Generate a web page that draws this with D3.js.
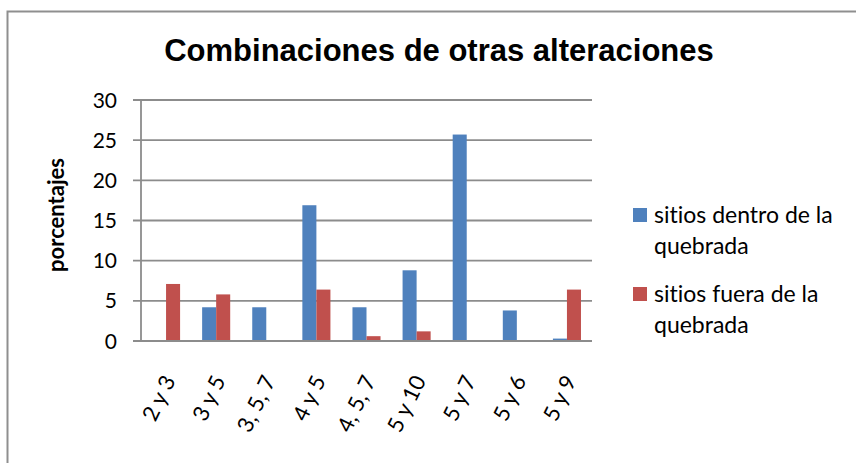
<!DOCTYPE html>
<html>
<head>
<meta charset="utf-8">
<script src="https://cdn.jsdelivr.net/npm/d3@7"></script>
<style>
  html, body { margin: 0; padding: 0; background: #fff; }
  svg { display: block; }
  text { font-variant-ligatures: none; }
  .tick-label { font-family: Lato, "Open Sans", sans-serif; font-size: 21px; fill: #000; }
  .cat-label { font-family: Lato, "Open Sans", sans-serif; font-size: 22px; fill: #000; }
  .legend-text { font-family: Lato, "Open Sans", sans-serif; font-size: 23px; fill: #000; }
</style>
</head>
<body>
<div id="chart"></div>
<script>
// Combinaciones de otras alteraciones — grouped bars

const CATEGORIES = ["2 y 3", "3 y 5", "3, 5, 7", "4 y 5", "4, 5, 7", "5 y 10", "5 y 7", "5 y 6", "5 y 9"];
const DENTRO = [0, 4.2, 4.2, 16.9, 4.2, 8.8, 25.7, 3.8, 0.3];
const FUERA = [7.1, 5.8, 0, 6.4, 0.6, 1.2, 0, 0, 6.4];
const SERIES_NAMES = [["sitios dentro de la", "quebrada"], ["sitios fuera de la", "quebrada"]];
const Y_TICKS = [0, 5, 10, 15, 20, 25, 30];

const COLORS = ["#4f81bd", "#c0504d"];
const GRID = "#8c8c8c";

const W = 856, H = 463;
const plot = { left: 141, right: 592, top: 100, bottom: 341 };

const svg = d3.select("#chart").append("svg")
  .attr("width", W)
  .attr("height", H);

// outer frame (runs off the right and bottom edge)
svg.append("rect")
  .attr("x", 7.5).attr("y", 11.5)
  .attr("width", 900).attr("height", 500)
  .attr("fill", "none")
  .attr("stroke", "#8f8f8f")
  .attr("stroke-width", 2);

// title
svg.append("text")
  .attr("x", 439).attr("y", 61)
  .attr("text-anchor", "middle")
  .attr("font-family", "'Liberation Sans', Arial, sans-serif")
  .attr("font-weight", "bold")
  .attr("font-size", 31)
  .text("Combinaciones de otras alteraciones");

// scales
const x = d3.scaleBand()
  .domain(CATEGORIES)
  .range([plot.left, plot.right])
  .paddingInner(0.44)
  .paddingOuter(0.22);

const xSeries = d3.scaleBand()
  .domain([0, 1])
  .range([0, x.bandwidth()]);

const y = d3.scaleLinear()
  .domain([0, 30])
  .range([plot.bottom, plot.top]);

// gridlines + y ticks
svg.append("g").selectAll("line")
  .data(Y_TICKS)
  .join("line")
  .attr("x1", plot.left - 8)
  .attr("x2", plot.right)
  .attr("y1", d => y(d))
  .attr("y2", d => y(d))
  .attr("stroke", GRID)
  .attr("stroke-width", 1.8);

svg.append("line")
  .attr("x1", plot.left).attr("x2", plot.left)
  .attr("y1", plot.top).attr("y2", plot.bottom)
  .attr("stroke", GRID)
  .attr("stroke-width", 1.8);

svg.append("g").selectAll("text")
  .data(Y_TICKS)
  .join("text")
  .attr("class", "tick-label")
  .attr("x", 117)
  .attr("y", d => y(d))
  .attr("dy", "0.36em")
  .attr("text-anchor", "end")
  .text(d => d);

// bars
const rows = CATEGORIES.map((c, i) => ({ cat: c, values: [DENTRO[i], FUERA[i]] }));

const groups = svg.append("g").selectAll("g")
  .data(rows)
  .join("g")
  .attr("transform", d => `translate(${x(d.cat)},0)`);

groups.selectAll("rect")
  .data(d => d.values.map((v, s) => ({ v, s })))
  .join("rect")
  .attr("x", d => xSeries(d.s))
  .attr("width", xSeries.bandwidth())
  .attr("y", d => y(d.v))
  .attr("height", d => y(0) - y(d.v))
  .attr("fill", d => COLORS[d.s]);

// redraw baseline over bars
svg.append("line")
  .attr("x1", plot.left - 8).attr("x2", plot.right)
  .attr("y1", plot.bottom).attr("y2", plot.bottom)
  .attr("stroke", GRID)
  .attr("stroke-width", 1.8);

// x labels
svg.append("g").selectAll("text")
  .data(CATEGORIES)
  .join("text")
  .attr("class", "cat-label")
  .attr("text-anchor", "end")
  .attr("dy", "0.35em")
  .attr("transform", d => `translate(${x(d) + x.bandwidth() / 2 + 3},377) rotate(-64)`)
  .text(d => d);

// y axis title
svg.append("text")
  .attr("transform", "translate(64,215) rotate(-90)")
  .attr("text-anchor", "middle")
  .attr("font-family", "Lato, 'Open Sans', sans-serif")
  .attr("font-weight", "bold")
  .attr("font-size", 22)
  .text("porcentajes");

// legend
const legend = svg.append("g").selectAll("g")
  .data(SERIES_NAMES)
  .join("g")
  .attr("transform", (d, i) => `translate(633,${208 + i * 79})`);

legend.append("rect")
  .attr("width", 14).attr("height", 14)
  .attr("fill", (d, i) => COLORS[i]);

legend.selectAll("text")
  .data(d => d)
  .join("text")
  .attr("class", "legend-text")
  .attr("x", 21)
  .attr("y", (d, j) => 15 + j * 31)
  .text(d => d);
</script>
</body>
</html>
